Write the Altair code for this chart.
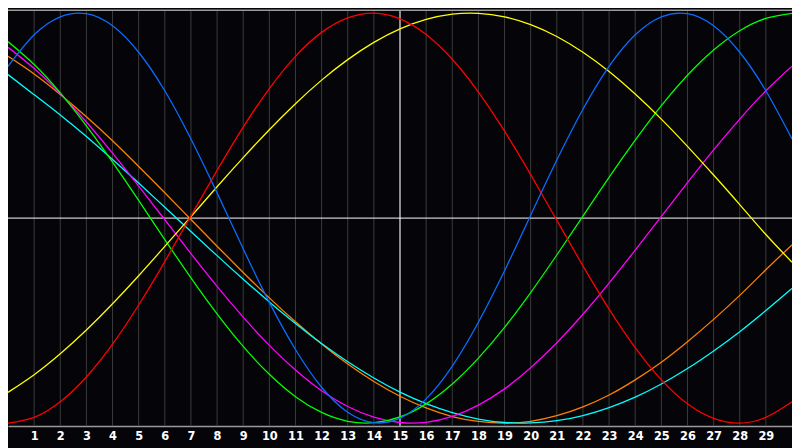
import altair as alt
import pandas as pd

days = list(range(0, 31))
tick_days = list(range(1, 30))

physical = [0.740, 0.894, 0.982, 0.997, 0.938, 0.809, 0.621, 0.386, 0.123, -0.150,
            -0.411, -0.641, -0.825, -0.947, -0.998, -0.976, -0.882, -0.722, -0.508, -0.257,
            0.014, 0.283, 0.531, 0.740, 0.894, 0.982, 0.997, 0.938, 0.809, 0.621, 0.386]
emotional = [-1.000, -0.972, -0.896, -0.775, -0.615, -0.424, -0.212, 0.011, 0.233, 0.444,
             0.632, 0.789, 0.906, 0.977, 1.000, 0.972, 0.896, 0.775, 0.615, 0.424,
             0.212, -0.011, -0.233, -0.444, -0.632, -0.789, -0.906, -0.977, -1.000, -0.972, -0.896]
intellectual = [0.861, 0.749, 0.611, 0.450, 0.273, 0.086, -0.105, -0.291, -0.467, -0.626,
                -0.762, -0.871, -0.948, -0.991, -0.998, -0.970, -0.906, -0.809, -0.683, -0.533,
                -0.363, -0.180, 0.010, 0.199, 0.380, 0.549, 0.697, 0.820, 0.914, 0.974, 0.999]
intuitive = [0.833, 0.730, 0.608, 0.469, 0.317, 0.156, -0.008, -0.173, -0.333, -0.483,
             -0.621, -0.741, -0.842, -0.919, -0.971, -0.997, -0.996, -0.967, -0.912, -0.833,
             -0.730, -0.608, -0.469, -0.317, -0.156, 0.008, 0.173, 0.333, 0.483, 0.621, 0.741]
aesthetic = [-0.850, -0.764, -0.662, -0.546, -0.418, -0.281, -0.138, 0.007, 0.153, 0.295,
             0.431, 0.558, 0.673, 0.773, 0.857, 0.923, 0.969, 0.995, 0.999, 0.982,
             0.944, 0.886, 0.809, 0.715, 0.605, 0.483, 0.350, 0.210, 0.066, -0.080, -0.215]
awareness = [0.789, 0.703, 0.603, 0.494, 0.377, 0.252, 0.124, -0.007, -0.137, -0.265,
             -0.389, -0.506, -0.614, -0.712, -0.797, -0.869, -0.926, -0.968, -0.992, -1.000,
             -0.991, -0.964, -0.921, -0.863, -0.789, -0.703, -0.603, -0.494, -0.377, -0.252, -0.130]
spiritual = [0.700, 0.602, 0.503, 0.398, 0.286, 0.171, 0.053, -0.065, -0.183, -0.298,
             -0.409, -0.514, -0.612, -0.701, -0.780, -0.849, -0.905, -0.949, -0.980, -0.997,
             -0.999, -0.988, -0.963, -0.924, -0.873, -0.809, -0.734, -0.648, -0.554, -0.451, -0.343]

series_names = ["awareness", "spiritual", "intuitive", "intellectual", "aesthetic", "emotional", "physical"]
series_values = [awareness, spiritual, intuitive, intellectual, aesthetic, emotional, physical]
series_colors = ["#ff8000", "#00ffff", "#ff00ff", "#00ff00", "#ffff00", "#ff0000", "#0a6cff"]

rows = []
for name, vals in zip(series_names, series_values):
    for d, v in zip(days, vals):
        rows.append({"day": d, "value": v, "series": name})
df = pd.DataFrame(rows)

xscale = alt.Scale(domain=[0, 30], nice=False, zero=False)
yscale = alt.Scale(domain=[-1.014, 1.014], nice=False, zero=False)

x_axis = alt.Axis(values=tick_days, title=None, grid=False, ticks=False,
                  domain=True, domainColor="#9a9a9a", domainWidth=1.5,
                  labelColor="#ffffff", labelFont="DejaVu Sans", labelFontSize=11.5,
                  labelFontWeight="bold", labelPadding=5, labelFlush=False,
                  labelOverlap=False, labelBound=False)

grid_df = pd.DataFrame({"day": tick_days})
grid = alt.Chart(grid_df).mark_rule(color="#3c3c3c", strokeWidth=1).encode(
    x=alt.X("day:Q", scale=xscale, axis=x_axis)
)

center_df = pd.DataFrame({"day": [15]})
center_v = alt.Chart(center_df).mark_rule(color="#ffffff", strokeWidth=1).encode(
    x=alt.X("day:Q", scale=xscale, axis=x_axis)
)
zero_df = pd.DataFrame({"value": [0]})
zero_h = alt.Chart(zero_df).mark_rule(color="#ffffff", strokeWidth=1).encode(
    y=alt.Y("value:Q", scale=yscale, axis=None)
)
top_df = pd.DataFrame({"value": [1.014]})
top_border = alt.Chart(top_df).mark_rule(color="#9a9a9a", strokeWidth=1.5).encode(
    y=alt.Y("value:Q", scale=yscale, axis=None)
)

lines = alt.Chart(df).mark_line(strokeWidth=1.3, interpolate="natural", clip=True).encode(
    x=alt.X("day:Q", scale=xscale, axis=x_axis),
    y=alt.Y("value:Q", scale=yscale,
            axis=alt.Axis(title=None, labels=False, ticks=False, grid=False,
                          domain=True, domainColor="#9a9a9a", domainWidth=1.5)),
    color=alt.Color("series:N", scale=alt.Scale(domain=series_names, range=series_colors),
                    legend=None),
    detail="series:N",
)

chart = alt.layer(grid, center_v, zero_h, top_border, lines).properties(
    width=792,
    height=420,
    autosize=alt.AutoSizeParams(type="none"),
    padding={"left": 0, "top": 0, "right": 0, "bottom": 20},
    background="#050408",
).configure_view(stroke=None, fill="#050408")

chart.save("out.html", embed_options={"renderer": "svg", "actions": False})
